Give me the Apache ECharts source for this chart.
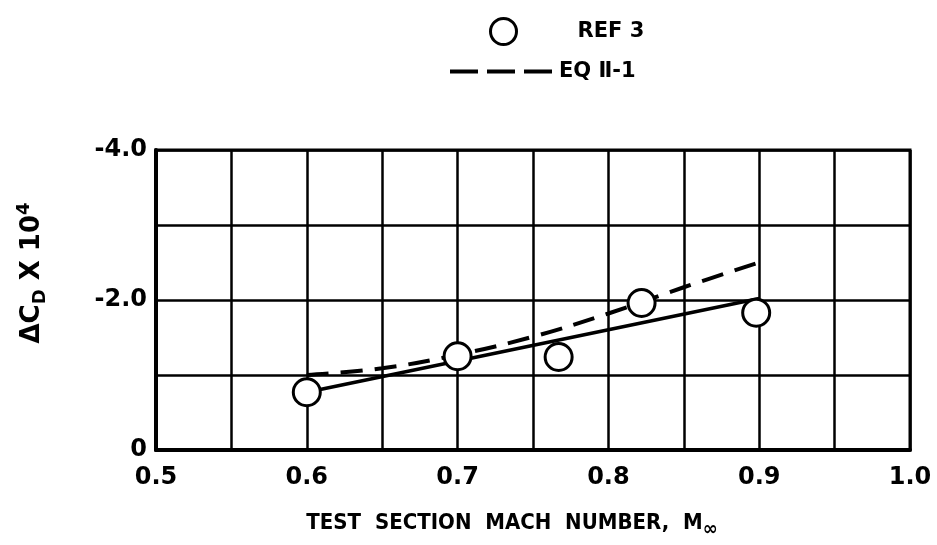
<!DOCTYPE html>
<html>
<head>
<meta charset="utf-8">
<title>Drag increment vs Mach number</title>
<script src="https://cdn.jsdelivr.net/npm/echarts@6/dist/echarts.min.js"></script>
<style>
  html, body { margin: 0; padding: 0; background: #fff; }
  #chart { width: 937px; height: 545px; }
</style>
</head>
<body>
<div id="chart"></div>
<script>
// Measured drag increments (REF 3)
const refMach = [0.6, 0.7, 0.767, 0.822, 0.898];
const refDeltaCd = [-0.77, -1.25, -1.24, -1.96, -1.83];

// Straight-line fit through the measured points
const fitMach = [0.6, 0.9];
const fitDeltaCd = [-0.77, -2.02];

// Equation II-1 prediction
const eqMach = [0.6, 0.65, 0.7, 0.75, 0.8, 0.85, 0.9];
const eqDeltaCd = [-1.0, -1.09, -1.27, -1.51, -1.82, -2.17, -2.5];

// Axis tick labels
const xTickLabels = ['0.5', '0.6', '0.7', '0.8', '0.9', '1.0'];
const yTickLabels = { '-4': '-4.0', '-2': '-2.0', '0': '0' };

const zip = (xs, ys) => xs.map((x, i) => [x, ys[i]]);

const labelFont = "'DejaVu Sans', sans-serif";
const titleFont = "'DejaVu Sans Condensed', 'Liberation Sans Narrow', 'DejaVu Sans', sans-serif";

const chart = echarts.init(document.getElementById('chart'), null, { renderer: 'canvas' });

chart.setOption({
  backgroundColor: '#fff',
  animation: false,
  grid: {
    left: 156, right: 27, top: 150, bottom: 95,
    containLabel: false,
    outerBoundsMode: 'none',
    show: true, borderColor: '#000', borderWidth: 3, backgroundColor: 'transparent'
  },
  legend: [
    {
      data: [{ name: 'REF 3', icon: 'circle' }],
      left: 484, top: 12,
      itemWidth: 26, itemHeight: 26,
      itemStyle: { color: '#fff', borderColor: '#000', borderWidth: 3 },
      textStyle: { fontFamily: labelFont, fontWeight: 'bold', fontSize: 21, color: '#000', padding: [0, 0, 0, 56] }
    },
    {
      data: ['EQ Ⅱ-1'],
      left: 443, top: 56,
      itemWidth: 104, itemHeight: 14,
      itemStyle: { opacity: 0 },
      lineStyle: { type: [28, 9], width: 4, color: '#000' },
      textStyle: { fontFamily: labelFont, fontWeight: 'bold', fontSize: 21, color: '#000' }
    }
  ],
  xAxis: {
    type: 'value',
    min: 0.5, max: 1.0, interval: 0.05,
    axisLine: { show: true, lineStyle: { color: '#000', width: 4 } },
    axisTick: { show: false },
    splitLine: { show: true, lineStyle: { color: '#000', width: 2.5 } },
    axisLabel: {
      margin: 16,
      fontFamily: labelFont, fontWeight: 'bold', fontSize: 24, color: '#000',
      formatter: function (v) {
        const s = v.toFixed(1);
        return Math.abs(v * 10 - Math.round(v * 10)) < 1e-6 && xTickLabels.includes(s) ? s : '';
      }
    },
    name: '{t|TEST  SECTION  MACH  NUMBER,  M}{s|∞}',
    nameLocation: 'middle',
    nameGap: 56,
    nameTextStyle: {
      padding: [0, 42, 0, 0],
      rich: {
        t: { fontFamily: titleFont, fontWeight: 'bold', fontSize: 22, color: '#000', lineHeight: 30 },
        s: { fontFamily: titleFont, fontWeight: 'bold', fontSize: 20, color: '#000', verticalAlign: 'bottom', padding: [14, 0, 0, 0] }
      }
    }
  },
  yAxis: {
    type: 'value',
    inverse: true,
    min: -4, max: 0, interval: 1,
    axisLine: { show: true, lineStyle: { color: '#000', width: 4 } },
    axisTick: { show: false },
    splitLine: { show: true, lineStyle: { color: '#000', width: 2.5 } },
    axisLabel: {
      margin: 9,
      fontFamily: labelFont, fontWeight: 'bold', fontSize: 24, color: '#000',
      formatter: function (v) { return yTickLabels[String(Math.round(v))] || ''; }
    }
  },
  graphic: [
    {
      type: 'text',
      x: 32, y: 273,
      rotation: Math.PI / 2,
      style: {
        text: '{a|ΔC}{s|D}{a| X 10}{p|4}',
        align: 'center', verticalAlign: 'middle',
        rich: {
          a: { fontFamily: labelFont, fontWeight: 'bold', fontSize: 26, color: '#000', lineHeight: 36 },
          s: { fontFamily: labelFont, fontWeight: 'bold', fontSize: 18, color: '#000', padding: [16, 0, 0, 0] },
          p: { fontFamily: labelFont, fontWeight: 'bold', fontSize: 18, color: '#000', padding: [0, 0, 16, 0] }
        }
      }
    }
  ],
  series: [
    {
      name: 'fit',
      type: 'line',
      data: zip(fitMach, fitDeltaCd),
      symbol: 'none',
      lineStyle: { color: '#000', width: 3.5 },
      z: 3
    },
    {
      name: 'EQ Ⅱ-1',
      type: 'line',
      data: zip(eqMach, eqDeltaCd),
      smooth: 0.4,
      symbol: 'none',
      color: '#000',
      lineStyle: { color: '#000', width: 4, type: [22, 12] },
      z: 3
    },
    {
      name: 'REF 3',
      type: 'scatter',
      data: zip(refMach, refDeltaCd),
      symbol: 'circle',
      symbolSize: 27,
      itemStyle: { color: '#fff', borderColor: '#000', borderWidth: 3, opacity: 1 },
      z: 5
    }
  ]
});
</script>
</body>
</html>
